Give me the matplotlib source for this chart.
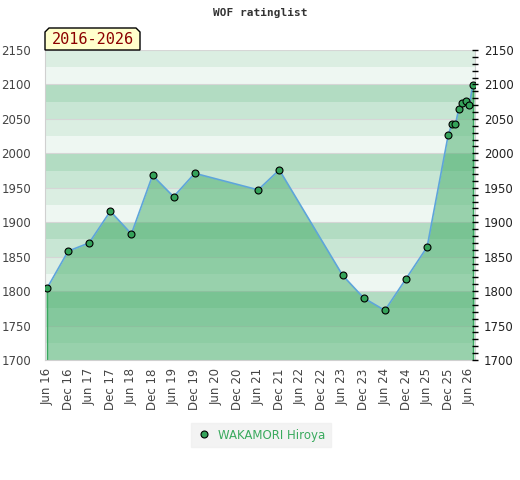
import datetime as dt
import matplotlib
matplotlib.use("Agg")
import matplotlib.pyplot as plt
import matplotlib.dates as mdates
from matplotlib.ticker import MultipleLocator
from matplotlib.lines import Line2D
from matplotlib.patches import Polygon

# === Data ===
list_dates = [
    "2016-06-01", "2016-12-01", "2017-06-01", "2017-12-01", "2018-06-01",
    "2018-12-01", "2019-06-01", "2019-12-01", "2021-06-01", "2021-12-01",
    "2023-06-01", "2023-12-01", "2024-06-01", "2024-12-01", "2025-06-01",
    "2025-12-01", "2026-01-01", "2026-02-01", "2026-03-01", "2026-04-01",
    "2026-05-01", "2026-06-01", "2026-07-01",
]
ratings = [
    1804, 1858, 1870, 1916, 1883,
    1968, 1937, 1971, 1947, 1976,
    1823, 1790, 1772, 1818, 1864,
    2027, 2042, 2042, 2064, 2073,
    2076, 2070, 2099,
]
player = "WAKAMORI Hiroya"
period_label = "2016-2026"
title = "WOF ratinglist"
y_min, y_max = 1700, 2150

dates = [dt.datetime.strptime(d, "%Y-%m-%d") for d in list_dates]

# === Styling ===
band_colors = ["#eef7f2", "#dbeee2", "#c8e6d4", "#b2dcc2"]
fill_color = "#39a85f"
line_color = "#5ea5da"
marker_color = "#35a25a"
text_color = "#444444"

W, H = 520, 480
fig = plt.figure(figsize=(W / 100, H / 100), dpi=100)
ax = fig.add_axes([45 / W, 1 - 360 / H, 430 / W, 310 / H])

# striped background, 25-point bands
for i, b in enumerate(range(y_min, y_max, 25)):
    ax.axhspan(b, b + 25, color=band_colors[i % 4], lw=0, zorder=0)
for g in range(y_min, y_max + 1, 50):
    ax.axhline(g, color="#d6d6d6", lw=0.8, zorder=0.5)

ax.fill_between(dates, ratings, y_min, color=fill_color, alpha=0.47, lw=0, zorder=1)
ax.vlines([dates[0], dates[-1]], y_min, [ratings[0], ratings[-1]],
          color=fill_color, lw=1.0, zorder=2)
ax.plot(dates, ratings, color=line_color, lw=1.2, zorder=3)
ax.plot(dates, ratings, ls="none", marker="o", ms=5, mfc=marker_color,
        mec="black", mew=0.8, zorder=4)

ax.set_ylim(y_min, y_max)
ax.set_xlim(dates[0] - dt.timedelta(days=17), dates[-1] + dt.timedelta(days=19))

ax.xaxis.set_major_locator(mdates.MonthLocator(bymonth=[6, 12]))
ax.xaxis.set_major_formatter(mdates.DateFormatter("%b %y"))
ax.yaxis.set_major_locator(MultipleLocator(50))
ax.tick_params(axis="x", rotation=90, labelsize=8.5, colors=text_color, length=0, pad=6)
ax.tick_params(axis="y", labelsize=8.5, colors=text_color, length=0, pad=10)

for s in ax.spines.values():
    s.set_color("#d0d0d0")
ax.spines["top"].set_visible(False)

ax2 = ax.twinx()
ax2.set_ylim(y_min, y_max)
ax2.yaxis.set_major_locator(MultipleLocator(50))
ax2.yaxis.set_minor_locator(MultipleLocator(10))
ax2.tick_params(axis="y", which="both", direction="inout", length=5, width=1,
                color="black", labelsize=8.5, labelcolor="#222222", pad=4)
for s in ax2.spines.values():
    s.set_visible(False)

fig.text(0.5, 1 - 13 / H, title, ha="center", va="center",
         family="DejaVu Sans Mono", weight="bold", fontsize=8, color="#333333")

# period tag with clipped top corners, sitting on the plot's top edge
tag = [(45, 50), (45, 32), (49, 28), (136, 28), (140, 32), (140, 50)]
fig.patches.append(Polygon([(x / W, 1 - y / H) for x, y in tag], closed=True,
                           transform=fig.transFigure, fc="#ffffcc", ec="black",
                           lw=1, zorder=5))
fig.text(92.5 / W, 1 - 39.5 / H, period_label, ha="center", va="center",
         family="DejaVu Sans Mono", fontsize=11, color="#8b0000", zorder=6)

handle = Line2D([], [], ls="none", marker="o", ms=5, mfc=marker_color,
                mec="black", mew=0.8)
leg = fig.legend([handle], [player], loc="center", bbox_to_anchor=(261 / W, 1 - 435 / H),
                 frameon=True, fontsize=8.5, handletextpad=0.6, borderpad=0.5,
                 handlelength=1.2, fancybox=False)
leg.get_frame().set_facecolor("#f0f0f0")
leg.get_frame().set_edgecolor("#f0f0f0")
for t in leg.get_texts():
    t.set_color("#3aaa5e")

fig.savefig("out.png", dpi=100)
